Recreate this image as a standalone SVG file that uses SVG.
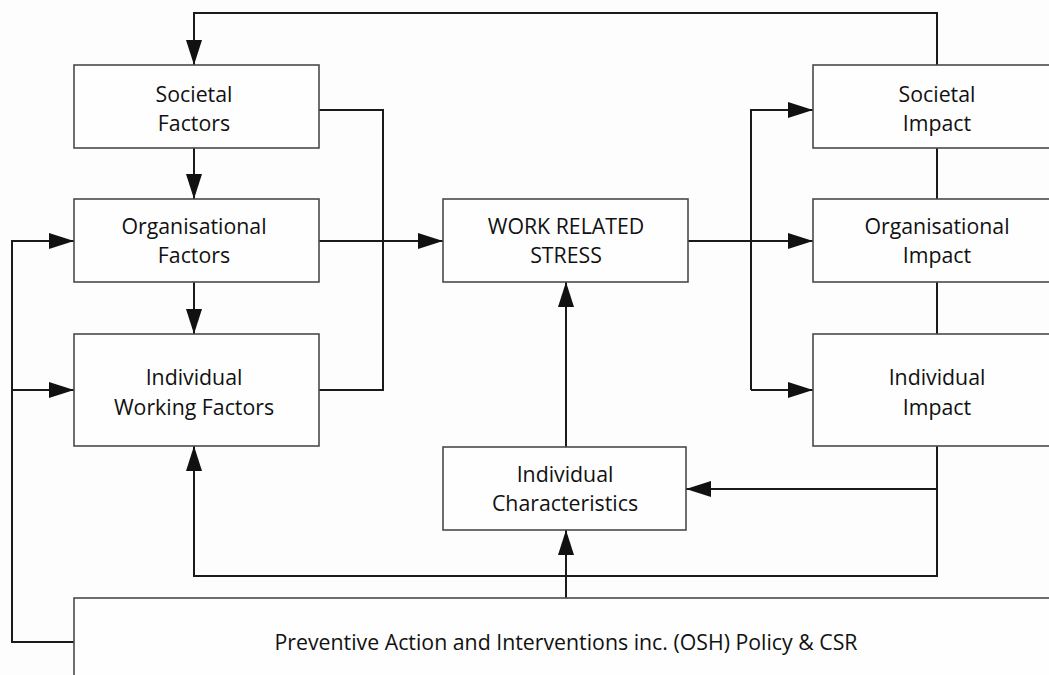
<svg xmlns="http://www.w3.org/2000/svg" width="1049" height="675" viewBox="0 0 1049 675">
<defs>
<marker id="ah" markerUnits="userSpaceOnUse" viewBox="0 0 25 16" refX="25" refY="8" markerWidth="25" markerHeight="16" orient="auto">
<path d="M0,0 L25,8 L0,16 Z" fill="#111"/>
</marker>
</defs>
<style>
.box{fill:#fefefe;stroke:#4a4a4a;stroke-width:1.6}
.t{font-family:"Open Sans","Noto Sans",sans-serif;font-size:21.3px;fill:#111;text-anchor:middle}
.c{fill:none;stroke:#1a1a1a;stroke-width:2}
.a{marker-end:url(#ah)}
</style>
<rect width="1049" height="675" fill="#fdfdfd"/>
<g id="connectors">
<path class="c a" d="M937,65 V13 H194 V65"/>
<path class="c a" d="M194,148 V199"/>
<path class="c a" d="M194,282 V334"/>
<path class="c" d="M319,110 H383 V390 H319"/>
<path class="c a" d="M319,241 H443"/>
<path class="c a" d="M74,642 H12 V241 H74"/>
<path class="c a" d="M12,390 H74"/>
<path class="c a" d="M688,241 H813"/>
<path class="c a" d="M751,390 V110 H813"/>
<path class="c a" d="M751,390 H813"/>
<path class="c" d="M937,148 V199"/>
<path class="c" d="M937,282 V334"/>
<path class="c a" d="M566,447 V282"/>
<path class="c a" d="M566,598 V530"/>
<path class="c a" d="M937,446 V489 H686"/>
<path class="c a" d="M937,489 V576 H194 V446"/>
</g>
<g id="societal-factors">
<rect class="box" x="74" y="65" width="245" height="83"/>
<text class="t" x="194" y="102">Societal</text>
<text class="t" x="194" y="131">Factors</text>
</g>
<g id="organisational-factors">
<rect class="box" x="74" y="199" width="245" height="83"/>
<text class="t" x="194" y="234">Organisational</text>
<text class="t" x="194" y="263">Factors</text>
</g>
<g id="individual-working-factors">
<rect class="box" x="74" y="334" width="245" height="112"/>
<text class="t" x="194" y="385">Individual</text>
<text class="t" x="194" y="415">Working Factors</text>
</g>
<g id="work-related-stress">
<rect class="box" x="443" y="199" width="245" height="83"/>
<text class="t" x="566" y="234">WORK RELATED</text>
<text class="t" x="566" y="263">STRESS</text>
</g>
<g id="individual-characteristics">
<rect class="box" x="443" y="447" width="243" height="83"/>
<text class="t" x="565" y="482">Individual</text>
<text class="t" x="565" y="511">Characteristics</text>
</g>
<g id="societal-impact">
<rect class="box" x="813" y="65" width="249" height="83"/>
<text class="t" x="937" y="102">Societal</text>
<text class="t" x="937" y="131">Impact</text>
</g>
<g id="organisational-impact">
<rect class="box" x="813" y="199" width="249" height="83"/>
<text class="t" x="937" y="234">Organisational</text>
<text class="t" x="937" y="263">Impact</text>
</g>
<g id="individual-impact">
<rect class="box" x="813" y="334" width="249" height="112"/>
<text class="t" x="937" y="385">Individual</text>
<text class="t" x="937" y="415">Impact</text>
</g>
<g id="preventive-action">
<rect class="box" x="74" y="598" width="1000" height="100"/>
<text class="t" x="566" y="650">Preventive Action and Interventions inc. (OSH) Policy &amp; CSR</text>
</g>
</svg>
